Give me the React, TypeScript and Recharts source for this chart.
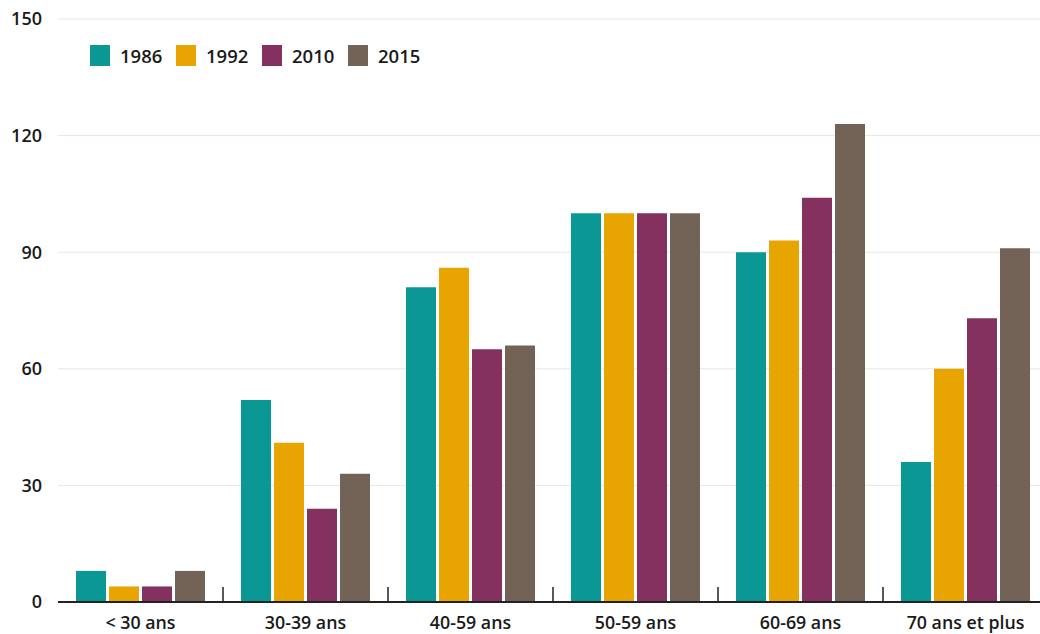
import React from 'react';
import { BarChart, Bar, XAxis, YAxis, CartesianGrid, Legend } from 'recharts';

const categories = ['< 30 ans', '30-39 ans', '40-59 ans', '50-59 ans', '60-69 ans', '70 ans et plus'];
const s1986 = [8, 52, 81, 100, 90, 36];
const s1992 = [4, 41, 86, 100, 93, 60];
const s2010 = [4, 24, 65, 100, 104, 73];
const s2015 = [8, 33, 66, 100, 123, 91];
const yTicks = [0, 30, 60, 90, 120, 150];

const seriesKeys = ['1986', '1992', '2010', '2015'];
const colors = ['#0B9894', '#E8A400', '#84315F', '#736356'];

const data = categories.map((c, i) => ({
  name: c,
  '1986': s1986[i],
  '1992': s1992[i],
  '2010': s2010[i],
  '2015': s2015[i],
}));

const FONT = '"Open Sans", "Noto Sans", sans-serif';

const XTick = (props: any) => {
  const { x, y, payload, index } = props;
  const half = payload && typeof payload.offset === 'number' ? payload.offset : 82.5;
  return (
    <g>
      {index > 0 && (
        <line x1={x - half} x2={x - half} y1={y} y2={y - 15} stroke="#222" strokeWidth={1.5} />
      )}
      <text x={x} y={y + 27} textAnchor="middle" fontFamily={FONT} fontWeight={600} fontSize={17.8} fill="#1a1a1a">
        {payload.value}
      </text>
    </g>
  );
};

const LegendContent = () => (
  <div style={{ display: 'flex', alignItems: 'center', fontFamily: FONT, fontWeight: 600, fontSize: 18.5, color: '#1a1a1a', lineHeight: '21px' }}>
    {seriesKeys.map((k, i) => (
      <div key={k} style={{ display: 'flex', alignItems: 'center', width: 86 }}>
        <span style={{ display: 'inline-block', width: 20, height: 21, background: colors[i], marginRight: 10 }} />
        <span>{k}</span>
      </div>
    ))}
  </div>
);

export default function App() {
  return (
    <div style={{ position: 'absolute', left: 0, top: 0, width: 1040, height: 634, overflow: 'hidden', background: '#fff' }}>
      <BarChart
        width={1048}
        height={634}
        data={data}
        margin={{ top: 19, right: 0, bottom: 0, left: 0 }}
        barSize={30}
        barGap={3}
      >
        <CartesianGrid vertical={false} stroke="#e6e6e6" strokeWidth={1} />
        <XAxis
          dataKey="name"
          interval={0}
          tickLine={false}
          tickSize={0}
          tickMargin={0}
          height={32}
          axisLine={{ stroke: '#222', strokeWidth: 1.8 }}
          tick={<XTick />}
        />
        <YAxis
          width={58}
          domain={[0, 150]}
          ticks={yTicks}
          axisLine={false}
          tickLine={false}
          tickSize={0}
          tickMargin={16}
          tick={{ fontFamily: FONT, fontWeight: 600, fontSize: 18, fill: '#1a1a1a' }}
        />
        <Legend
          layout="horizontal"
          verticalAlign="middle"
          align="center"
          content={<LegendContent />}
          wrapperStyle={{ position: 'absolute', top: 45, left: 90, width: 'auto' }}
        />
        {seriesKeys.map((k, i) => (
          <Bar key={k} dataKey={k} fill={colors[i]} isAnimationActive={false} />
        ))}
      </BarChart>
    </div>
  );
}
